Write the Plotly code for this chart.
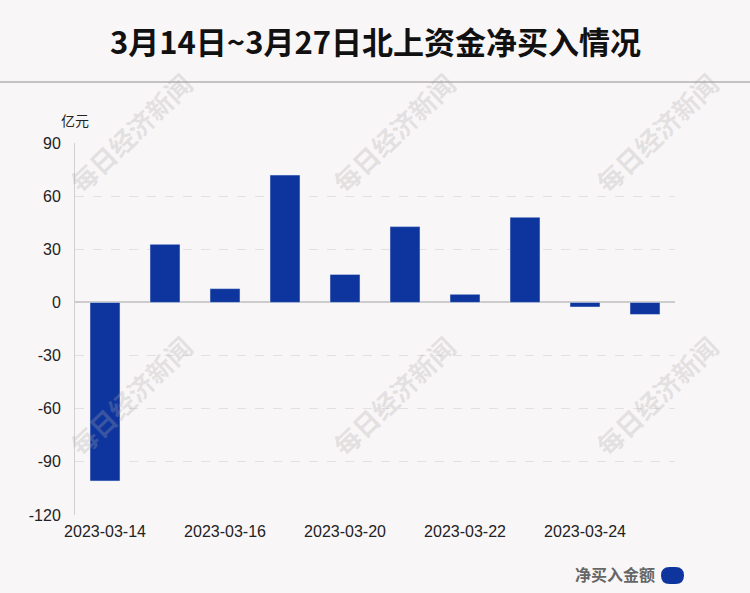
import plotly.graph_objects as go

dates = ["2023-03-14", "2023-03-15", "2023-03-16", "2023-03-17", "2023-03-20",
         "2023-03-21", "2023-03-22", "2023-03-23", "2023-03-24", "2023-03-27"]
net_buy = [-100.8, 32.8, 7.8, 71.9, 15.8, 42.8, 4.6, 48.1, -2.6, -6.8]
tick_dates = ["2023-03-14", "2023-03-16", "2023-03-20", "2023-03-22", "2023-03-24"]
y_ticks = [-120, -90, -60, -30, 0, 30, 60, 90]

BG = "#f9f6f7"
BLUE = "#0e359e"

fig = go.Figure()
fig.add_trace(go.Bar(x=dates, y=net_buy, marker_color=BLUE, width=0.5,
                     name="净买入金额", showlegend=False))

fig.update_layout(
    width=750, height=593,
    margin=dict(l=75, r=75, t=143, b=78),
    paper_bgcolor=BG, plot_bgcolor=BG,
    font=dict(family="Liberation Sans, Noto Sans CJK SC", size=16, color="#333"),
    bargap=0.5,
)
fig.update_xaxes(type="category", categoryorder="array", categoryarray=dates,
                 tickmode="array", tickvals=tick_dates, ticktext=tick_dates,
                 showgrid=False, showline=False, zeroline=False, ticks="",
                 ticklabelstandoff=5, range=[-0.5, 9.5],
                 tickfont=dict(size=16, color="#222"))
fig.update_yaxes(range=[-120, 90], tickmode="array", tickvals=y_ticks,
                 ticktext=[str(v) for v in y_ticks],
                 showgrid=True, gridcolor="#e2e0e1", griddash="dash", gridwidth=1,
                 zeroline=True, zerolinecolor="#cccccc", zerolinewidth=2,
                 showline=True, linecolor="#d0d0d0", linewidth=1,
                 ticks="", ticklabelstandoff=10,
                 tickfont=dict(size=16, color="#222"))

# title
fig.add_annotation(text="<b>3月14日~3月27日北上资金净买入情况</b>",
                   xref="paper", yref="paper", x=0.5, y=(515 - 40) / 372,
                   showarrow=False, xanchor="center", yanchor="middle",
                   font=dict(family="Noto Sans CJK SC", size=31, color="#111"))
# separator line
fig.add_shape(type="line", xref="paper", yref="paper",
              x0=-0.125, x1=1.125, y0=(515 - 82) / 372, y1=(515 - 82) / 372,
              line=dict(color="#c4c2c3", width=2))
# unit label
fig.add_annotation(text="亿元", xref="paper", yref="paper", x=0, y=(515 - 120) / 372,
                   showarrow=False, xanchor="center", yanchor="middle",
                   font=dict(family="Noto Sans CJK SC", size=14, color="#222"))

# watermarks
for px in (130, 393, 656):
    for py in (132, 395):
        fig.add_annotation(text="<b>每日经济新闻</b>", xref="paper", yref="paper",
                           x=(px - 75) / 600, y=(515 - py) / 372,
                           showarrow=False, xanchor="center", yanchor="middle",
                           textangle=-44,
                           font=dict(family="Noto Sans CJK SC", size=26,
                                     color="rgba(170,170,170,0.28)"))

# legend
fig.add_annotation(text="<b>净买入金额</b>", xref="paper", yref="paper",
                   x=(657 - 75) / 600, y=(515 - 574) / 372,
                   showarrow=False, xanchor="right", yanchor="middle",
                   font=dict(family="Noto Sans CJK SC", size=16, color="#666"))
fig.add_shape(type="path", xref="paper", yref="paper",
              xsizemode="pixel", ysizemode="pixel",
              xanchor=(672.5 - 75) / 600, yanchor=(515 - 575.5) / 372,
              path="M -3,-8.5 L 3,-8.5 Q 11.5,-8.5 11.5,0 Q 11.5,8.5 3,8.5 L -3,8.5 "
                   "Q -11.5,8.5 -11.5,0 Q -11.5,-8.5 -3,-8.5 Z",
              fillcolor=BLUE, line=dict(width=0))

fig.write_html("out.html", config={"displayModeBar": False},
               post_script="document.body.style.margin='0px';"
                           "document.body.style.background='" + BG + "';")
